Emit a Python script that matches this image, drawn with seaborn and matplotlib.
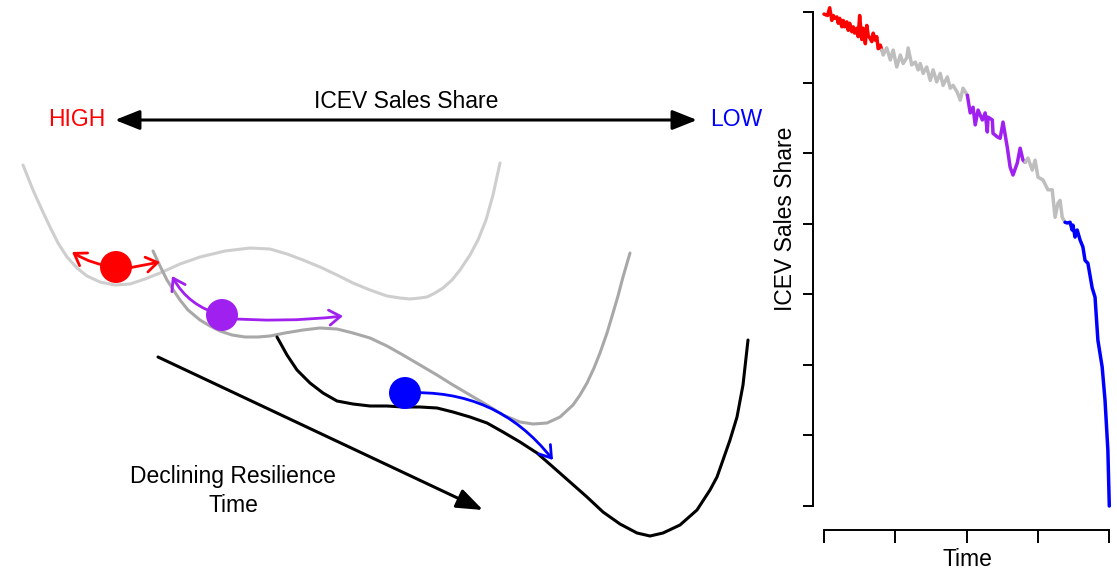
import pandas as pd
import matplotlib.pyplot as plt
import seaborn as sns
from matplotlib.patches import FancyArrowPatch

sns.set_style("ticks")
plt.rcParams["font.family"] = ["Liberation Sans", "DejaVu Sans"]
plt.rcParams["text.color"] = "black"
plt.rcParams["axes.labelcolor"] = "black"

# -----------------------------
# Right panel: ICEV sales share over time, one list per coloured stretch
# -----------------------------
red_time = [0.00, 0.05, 0.08, 0.11, 0.13, 0.15, 0.18, 0.20, 0.22, 0.25, 0.27, 0.29, 0.32, 0.34, 0.36, 0.39, 0.41,
            0.43, 0.46, 0.48, 0.50, 0.53, 0.55, 0.58, 0.60, 0.62, 0.65, 0.67, 0.69, 0.72, 0.74, 0.76, 0.79, 0.81]
red_share = [6.97, 6.95, 7.06, 6.88, 6.95, 6.91, 6.93, 6.84, 6.91, 6.79, 6.88, 6.79, 6.86, 6.74, 6.84, 6.72, 6.79,
             6.70, 6.77, 6.65, 6.95, 6.61, 6.77, 6.55, 6.81, 6.67, 6.62, 6.58, 6.70, 6.60, 6.65, 6.48, 6.53, 6.46]

gray1_time = [0.81, 0.83, 0.88, 0.93, 0.97, 1.02, 1.07, 1.11, 1.16, 1.18, 1.23, 1.28, 1.32, 1.35, 1.39, 1.44, 1.49,
              1.53, 1.58, 1.63, 1.67, 1.73, 1.77, 1.81, 1.87, 1.91, 1.95, 2.01]
gray1_share = [6.46, 6.39, 6.49, 6.32, 6.46, 6.22, 6.39, 6.27, 6.35, 6.49, 6.25, 6.29, 6.18, 6.27, 6.13, 6.22, 6.03,
               6.18, 6.01, 6.13, 5.96, 6.08, 5.92, 5.96, 5.86, 5.75, 5.92, 5.82]

purple_time = [2.01, 2.05, 2.09, 2.12, 2.16, 2.22, 2.26, 2.29, 2.30, 2.36, 2.37, 2.43, 2.47, 2.51, 2.57, 2.61, 2.65,
               2.71, 2.75, 2.79, 2.82]
purple_share = [5.82, 5.57, 5.65, 5.40, 5.61, 5.47, 5.57, 5.30, 5.51, 5.47, 5.28, 5.23, 5.21, 5.44, 5.08, 4.80, 4.69,
                4.86, 5.07, 4.90, 4.87]

gray2_time = [2.82, 2.86, 2.92, 2.96, 3.00, 3.07, 3.14, 3.20, 3.24, 3.28, 3.31, 3.34, 3.38]
gray2_share = [4.87, 4.93, 4.76, 4.90, 4.66, 4.62, 4.48, 4.48, 4.09, 4.29, 4.33, 4.09, 4.02]

blue_time = [3.38, 3.41, 3.45, 3.48, 3.49, 3.52, 3.55, 3.59, 3.63, 3.66, 3.70, 3.76, 3.80, 3.84, 3.90, 3.94, 3.98, 4.00]
blue_share = [4.02, 4.01, 4.02, 3.91, 3.98, 3.81, 3.91, 3.77, 3.67, 3.48, 3.44, 3.09, 2.96, 2.35, 1.97, 1.50, 0.79, 0.00]

x_ticks = [0, 1, 2, 3, 4]
y_ticks = [0, 1, 2, 3, 4, 5, 6, 7]

# -----------------------------
# Left panel: stability landscapes (sketch drawn in pixel units)
# -----------------------------
well_high_x = [23, 33, 42, 50, 58, 67, 77, 87, 100, 115, 130, 145, 160, 180, 200, 225, 250, 270, 287, 303, 320, 337,
               353, 370, 387, 400, 410, 420, 427, 435, 443, 452, 460, 470, 478, 486, 493, 500]
well_high_y = [165, 190, 210, 227, 243, 257, 268, 276, 282, 285, 284, 279, 273, 264, 257, 251, 248, 249, 254, 260, 267,
               275, 283, 290, 296, 298, 299, 298, 297, 293, 288, 280, 270, 255, 240, 220, 195, 163]

well_mid_x = [153, 160, 167, 174, 180, 188, 200, 210, 220, 232, 245, 258, 270, 285, 303, 320, 337, 353, 370, 387, 403,
              420, 437, 453, 470, 487, 503, 520, 533, 547, 560, 573, 580, 587, 594, 600, 607, 613, 618, 623, 630]
well_mid_y = [251, 266, 280, 291, 300, 310, 320, 326, 331, 335, 337, 337, 336, 333, 330, 328, 329, 333, 338, 346, 355,
              365, 375, 385, 395, 405, 415, 422, 424, 423, 417, 405, 395, 383, 368, 353, 333, 313, 296, 277, 253]

well_low_x = [277, 287, 297, 310, 323, 337, 353, 370, 387, 403, 420, 437, 453, 470, 487, 503, 520, 537, 553, 570, 587,
              603, 620, 637, 650, 663, 680, 697, 710, 717, 723, 730, 737, 743, 748]
well_low_y = [337, 355, 370, 383, 393, 401, 404, 406, 406, 407, 407, 408, 412, 417, 423, 432, 442, 453, 467, 482, 497,
              512, 524, 533, 536, 533, 525, 510, 490, 477, 460, 440, 417, 385, 340]

ball_x = [116, 222, 405]
ball_y = [267, 315, 393]
ball_colors = ["#ff0000", "#a020f0", "#0000ff"]

# -----------------------------
# Figure
# -----------------------------
fig = plt.figure(figsize=(11.17, 5.73), dpi=100)

ax = fig.add_axes([0, 0, 1, 1])
ax.set_xlim(0, 1117)
ax.set_ylim(573, 0)
ax.axis("off")

ax.plot(well_high_x, well_high_y, color="#cecece", lw=2.2, solid_joinstyle="round")
ax.plot(well_mid_x, well_mid_y, color="#a8a8a8", lw=2.2, solid_joinstyle="round")
ax.plot(well_low_x, well_low_y, color="black", lw=2.2, solid_joinstyle="round")


def seta(p0, p1, color, rad=0.0, style="->,head_length=0.45,head_width=0.3", lw=2.0, scale=18):
    ax.add_patch(FancyArrowPatch(p0, p1, arrowstyle=style, connectionstyle=f"arc3,rad={rad}",
                                 color=color, lw=lw, mutation_scale=scale, shrinkA=0, shrinkB=0, zorder=3))


# small moves around each ball
seta((116, 267), (72, 252), "#ff0000", rad=-0.12)
seta((118, 270), (160, 262), "#ff0000")
seta((222, 315), (172, 276), "#a020f0", rad=-0.22)
seta((222, 318), (343, 316), "#a020f0", rad=0.05)
seta((405, 393), (553, 460), "#0000ff", rad=-0.26)

ax.scatter(ball_x, ball_y, s=530, c=ball_colors, edgecolors="none", zorder=5)

# ICEV share axis on top
seta((115, 120), (697, 120), "black", style="<|-|>,head_length=0.75,head_width=0.3", lw=2.2, scale=20)
ax.text(406, 101, "ICEV Sales Share", fontsize=16.5, ha="center", va="center")
ax.text(105, 120, "HIGH", fontsize=16.5, color="#ff0000", ha="right", va="center")
ax.text(710, 120, "LOW", fontsize=16.5, color="#0000ff", ha="left", va="center")

# declining resilience arrow
seta((158, 357), (483, 510), "black", style="-|>,head_length=0.8,head_width=0.3", lw=2.2, scale=20)
ax.text(233, 477, "Declining Resilience", fontsize=16.5, ha="center", va="center")
ax.text(233, 505, "Time", fontsize=16.5, ha="center", va="center")

# -----------------------------
# Right panel time series
# -----------------------------
df = pd.concat([
    pd.DataFrame({"time": red_time, "share": red_share, "trecho": "red"}),
    pd.DataFrame({"time": gray1_time, "share": gray1_share, "trecho": "gray1"}),
    pd.DataFrame({"time": purple_time, "share": purple_share, "trecho": "purple"}),
    pd.DataFrame({"time": gray2_time, "share": gray2_share, "trecho": "gray2"}),
    pd.DataFrame({"time": blue_time, "share": blue_share, "trecho": "blue"}),
], ignore_index=True)
paleta = {"red": "#ff0000", "gray1": "#bebebe", "purple": "#a020f0", "gray2": "#bebebe", "blue": "#0000ff"}

ax_ts = fig.add_axes([813 / 1117, 43 / 573, 304 / 1117, 526 / 573])
ax_ts.set_facecolor("none")
sns.lineplot(data=df, x="time", y="share", hue="trecho", palette=paleta, estimator=None, sort=False,
             legend=False, lw=2.5, ax=ax_ts)
ax_ts.set_xlim(-0.154, 4.108)
ax_ts.set_ylim(-0.340, 7.113)
ax_ts.set_xticks(x_ticks)
ax_ts.set_yticks(y_ticks)
ax_ts.set_xticklabels([])
ax_ts.set_yticklabels([])
sns.despine(ax=ax_ts)
ax_ts.spines["left"].set_bounds(0, 7)
ax_ts.spines["bottom"].set_bounds(0, 4)
for s in ["left", "bottom"]:
    ax_ts.spines[s].set_linewidth(1.4)
    ax_ts.spines[s].set_color("black")
ax_ts.tick_params(axis="y", length=7.5, width=1.4, color="black")
ax_ts.tick_params(axis="x", length=9.5, width=1.4, color="black")
ax_ts.set_xlabel("Time", fontsize=16.5)
ax_ts.set_ylabel("ICEV Sales Share", fontsize=16.5)
ax_ts.xaxis.set_label_coords((967 - 813) / 304, (530 - 560) / 526)
ax_ts.yaxis.set_label_coords((785 - 813) / 304, (569 - 258) / 526)
ax_ts.xaxis.label.set_va("center")
ax_ts.yaxis.label.set_va("center")

fig.savefig("out.png", dpi=100)
